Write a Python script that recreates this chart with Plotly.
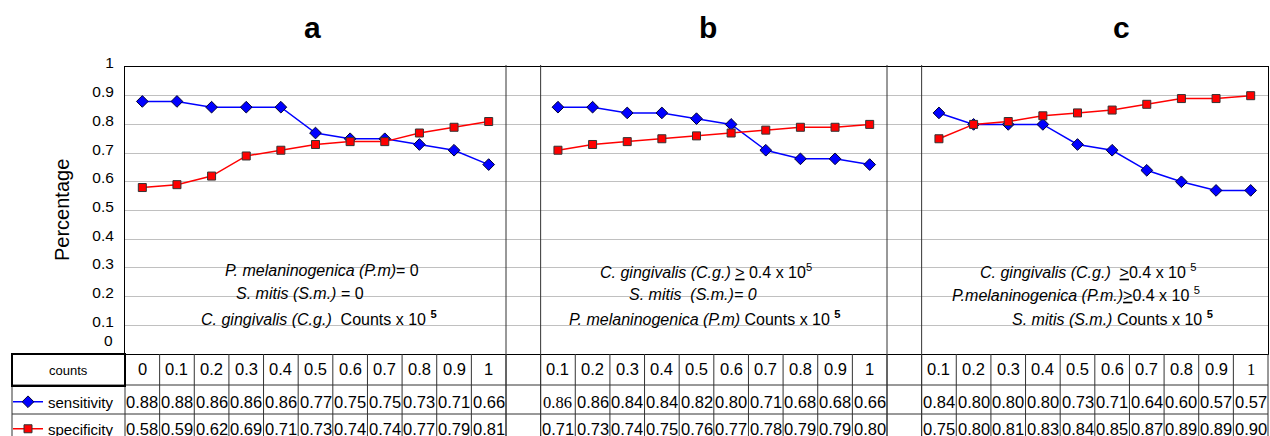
import plotly.graph_objects as go

# ---------------- data ----------------
counts_a = ["0", "0.1", "0.2", "0.3", "0.4", "0.5", "0.6", "0.7", "0.8", "0.9", "1"]
counts_b = ["0.1", "0.2", "0.3", "0.4", "0.5", "0.6", "0.7", "0.8", "0.9", "1"]
counts_c = ["0.1", "0.2", "0.3", "0.4", "0.5", "0.6", "0.7", "0.8", "0.9", "1"]

sens_a = [0.88, 0.88, 0.86, 0.86, 0.86, 0.77, 0.75, 0.75, 0.73, 0.71, 0.66]
spec_a = [0.58, 0.59, 0.62, 0.69, 0.71, 0.73, 0.74, 0.74, 0.77, 0.79, 0.81]
sens_b = [0.86, 0.86, 0.84, 0.84, 0.82, 0.80, 0.71, 0.68, 0.68, 0.66]
spec_b = [0.71, 0.73, 0.74, 0.75, 0.76, 0.77, 0.78, 0.79, 0.79, 0.80]
sens_c = [0.84, 0.80, 0.80, 0.80, 0.73, 0.71, 0.64, 0.60, 0.57, 0.57]
spec_c = [0.75, 0.80, 0.81, 0.83, 0.84, 0.85, 0.87, 0.89, 0.89, 0.90]

series_names = ["sensitivity", "specificity"]
panel_titles = ["a", "b", "c"]
ytick_vals = [0.1, 0.2, 0.3, 0.4, 0.5, 0.6, 0.7, 0.8, 0.9, 1.0]
ytick_text = ["0.1", "0.2", "0.3", "0.4", "0.5", "0.6", "0.7", "0.8", "0.9", "1"]
y_title = "Percentage"
table_header = "counts"

NB = "\u00a0"
notes_a = ["<i>P. melaninogenica (P.m)</i>= 0",
           "<i>S. mitis (S.m.)</i> = 0",
           "<i>C. gingivalis (C.g.)</i>" + NB * 2 + "Counts x 10 <sup><b>5</b></sup>"]
notes_b = ["<i>C. gingivalis (C.g.)</i> <u>></u> 0.4 x 10<sup>5</sup>",
           "<i>S. mitis" + NB * 2 + "(S.m.)= 0</i>",
           "<i>P. melaninogenica (P.m)</i> Counts x 10 <sup><b>5</b></sup>"]
notes_c = ["<i>C. gingivalis (C.g.)</i>" + NB * 2 + "<u>></u>0.4 x 10 <sup>5</sup>",
           "<i>P.melaninogenica (P.m.)</i><u>></u>0.4 x 10 <sup>5</sup>",
           "<i>S. mitis (S.m.)</i> Counts x 10 <sup><b>5</b></sup>"]

panels = [(counts_a, sens_a, spec_a, notes_a),
          (counts_b, sens_b, spec_b, notes_b),
          (counts_c, sens_c, spec_c, notes_c)]

# cells that the source table renders in a serif face: (panel, row, column)
serif_cells = {(1, 1, 0), (2, 0, 9)}

# ---------------- layout constants ----------------
W, H = 1270, 436
PLOT_L, PLOT_R, PLOT_T, PLOT_B = 125, 1268, 67, 354   # page pixels
ML, MR, MT, MB = PLOT_L, W - PLOT_R, PLOT_T, H - PLOT_B
PW = PLOT_R - PLOT_L
PH = PLOT_B - PLOT_T
FONT = "Arial, Liberation Sans, Helvetica, sans-serif"
SERIF = "Times New Roman, Liberation Serif, serif"
BLUE = "#0000FF"
RED = "#FF0000"
GRID = "#c0c0c0"
TLINE = "#333333"


def px_x(px):
    return (px - PLOT_L) / PW


def px_y(py):
    return (PLOT_B - py) / PH


# build category positions (one empty column between panels)
xs, ys_sens, ys_spec = [], [], []
panel_pos = []
pos = 0
for i, (cnts, se, sp, _) in enumerate(panels):
    p = list(range(pos, pos + len(cnts)))
    panel_pos.append(p)
    xs += p
    ys_sens += se
    ys_spec += sp
    pos += len(cnts)
    if i < len(panels) - 1:
        xs.append(pos)
        ys_sens.append(None)
        ys_spec.append(None)
        pos += 1
ncols = pos

fig = go.Figure()
fig.add_trace(go.Scatter(
    x=xs, y=ys_sens, name=series_names[0], mode="lines+markers",
    line=dict(color=BLUE, width=1.5),
    marker=dict(symbol="diamond", size=9, color=BLUE, line=dict(color="#000033", width=1)),
    connectgaps=False, legend="legend"))
fig.add_trace(go.Scatter(
    x=xs, y=ys_spec, name=series_names[1], mode="lines+markers",
    line=dict(color=RED, width=1.5),
    marker=dict(symbol="square", size=8, color=RED, line=dict(color="#333333", width=1)),
    connectgaps=False, legend="legend2"))

shapes = []
annotations = []


def col_px(k):
    return PLOT_L + PW * k / ncols


# white boxes behind the notes
boxes = [(193, 435), (593, 836), (993, 1212)]
for (x0, x1) in boxes:
    shapes.append(dict(type="rect", xref="paper", yref="y", x0=px_x(x0), x1=px_x(x1),
                       y0=0.05, y1=0.345, fillcolor="white", line=dict(width=0),
                       layer="between"))

# panel separators (gap columns)
for p in panel_pos[:-1]:
    for k in (p[-1] + 1, p[-1] + 2):
        shapes.append(dict(type="line", xref="paper", yref="paper",
                           x0=px_x(col_px(k)), x1=px_x(col_px(k)),
                           y0=px_y(65), y1=px_y(H + 10),
                           line=dict(color=TLINE, width=1)))

# table vertical lines
for k in range(ncols + 1):
    xp = px_x(col_px(k))
    shapes.append(dict(type="line", xref="paper", yref="paper", x0=xp, x1=xp,
                       y0=0, y1=px_y(H + 10), line=dict(color=TLINE, width=1)))
# table horizontal lines
for py in (385, 414):
    shapes.append(dict(type="line", xref="paper", yref="paper",
                       x0=px_x(12), x1=px_x(col_px(ncols)), y0=px_y(py), y1=px_y(py),
                       line=dict(color=TLINE, width=1)))
shapes.append(dict(type="line", xref="paper", yref="paper",
                   x0=px_x(12), x1=px_x(12), y0=px_y(385), y1=px_y(H + 10),
                   line=dict(color=TLINE, width=1)))
# counts header box (thick)
shapes.append(dict(type="rect", xref="paper", yref="paper",
                   x0=px_x(12), x1=px_x(PLOT_L), y0=px_y(354), y1=px_y(386),
                   line=dict(color="black", width=2)))
annotations.append(dict(xref="paper", yref="paper", x=px_x(68), y=px_y(370),
                        xanchor="center", yanchor="middle",
                        text=table_header, showarrow=False,
                        font=dict(family=FONT, size=13, color="black")))

# table cell text
row_y = [px_y(369), px_y(402), px_y(429)]
for pi, ((cnts, se, sp, _), p) in enumerate(zip(panels, panel_pos)):
    for j, k in enumerate(p):
        vals = [cnts[j], "%.2f" % se[j], "%.2f" % sp[j]]
        for r, v in enumerate(vals):
            fam = SERIF if (pi, r, j) in serif_cells else FONT
            annotations.append(dict(xref="x", yref="paper", x=k, y=row_y[r], text=v,
                                    showarrow=False, xanchor="center", yanchor="middle",
                                    font=dict(family=fam, size=16.5, color="black")))

# notes inside panels
note_pos = [[(322, 270), (300, 293), (319, 318)],
            [(706, 271), (693, 294), (705, 318)],
            [(1088, 271), (1076, 294), (1112, 318)]]
for (_, _, _, notes), npos in zip(panels, note_pos):
    for txt, (nx, ny) in zip(notes, npos):
        annotations.append(dict(xref="paper", yref="paper", x=px_x(nx), y=px_y(ny),
                                text=txt, showarrow=False, xanchor="center", yanchor="middle",
                                font=dict(family=FONT, size=16, color="black")))

# panel titles
title_px = [312, 708, 1121]
for t, tx in zip(panel_titles, title_px):
    annotations.append(dict(xref="paper", yref="paper", x=px_x(tx), y=px_y(27),
                            text="<b>%s</b>" % t, showarrow=False,
                            xanchor="center", yanchor="middle",
                            font=dict(family=FONT, size=30, color="black")))

# y title
annotations.append(dict(xref="paper", yref="paper", x=px_x(62), y=px_y(210),
                        xanchor="center", yanchor="middle",
                        text=y_title, textangle=-90, showarrow=False,
                        font=dict(family=FONT, size=20, color="black")))
# zero label
annotations.append(dict(xref="paper", yref="y", x=px_x(115), y=0, xanchor="right",
                        yanchor="middle", yshift=14, text="0", showarrow=False,
                        font=dict(family=FONT, size=15.5, color="black")))

fig.update_layout(
    width=W, height=H,
    margin=dict(l=ML, r=MR, t=MT, b=MB, autoexpand=False),
    paper_bgcolor="white", plot_bgcolor="white",
    font=dict(family=FONT, size=15, color="black"),
    xaxis=dict(range=[-0.5, ncols - 0.5], showgrid=False, zeroline=False,
               showticklabels=False, ticks="", showline=True, mirror=True,
               linecolor="black", linewidth=1, fixedrange=True),
    yaxis=dict(range=[0, 1], tickvals=ytick_vals, ticktext=ytick_text,
               showgrid=True, gridcolor=GRID, gridwidth=1, zeroline=False,
               ticks="", showline=True, mirror=True, linecolor="black", linewidth=1,
               ticklabelshift=-4, ticklabelstandoff=7,
               tickfont=dict(family=FONT, size=15.5, color="black")),
    showlegend=True,
    legend=dict(x=px_x(8), y=px_y(402), xanchor="left", yanchor="middle",
                bgcolor="rgba(0,0,0,0)", font=dict(family=FONT, size=15, color="black"),
                itemclick=False, itemdoubleclick=False),
    legend2=dict(x=px_x(8), y=px_y(429), xanchor="left", yanchor="middle",
                 bgcolor="rgba(0,0,0,0)", font=dict(family=FONT, size=15, color="black"),
                 itemclick=False, itemdoubleclick=False),
    shapes=shapes,
    annotations=annotations,
)

fig.write_html("out.html",
               config={"displayModeBar": False},
               post_script="document.body.style.margin='0px';"
                           "document.body.style.overflow='hidden';")
